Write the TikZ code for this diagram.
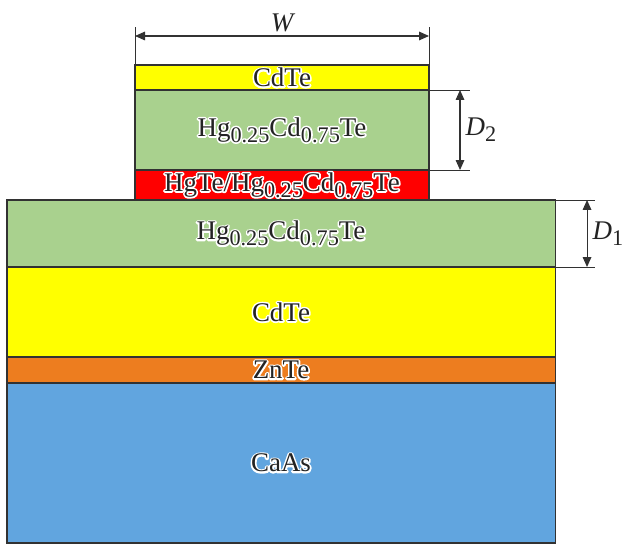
\documentclass[tikz,border=0pt]{standalone}
\usepackage{fontspec}
\setmainfont{Liberation Serif}
\usetikzlibrary{arrows.meta,positioning}
\definecolor{cdyellow}{RGB}{255,255,0}
\definecolor{mctgreen}{RGB}{169,209,142}
\definecolor{qwred}{RGB}{255,0,0}
\definecolor{znorange}{RGB}{237,125,31}
\definecolor{subblue}{RGB}{97,165,223}
\definecolor{edge}{RGB}{50,50,50}
\definecolor{ink}{RGB}{35,35,35}
\newcommand{\sub}[1]{\raisebox{-5pt}{\fontsize{19}{20}\selectfont #1}}
\newcommand{\mct}{Hg\sub{0.25}Cd\sub{0.75}Te}
% white outline drawn under the text
\newcommand{\halo}[1]{\leavevmode\rlap{\special{pdf:literal direct q 1 Tr 2.8 w 1 1 1 RG 1 j}#1\special{pdf:literal direct Q}}#1}

\begin{document}
\begin{tikzpicture}[x=0.03cm,y=-0.03cm,
    layer/.style={draw=edge,line width=0.9pt,outer sep=0pt,inner sep=0pt,
      font=\fontsize{23}{26}\selectfont,text=ink},
    dimline/.style={draw=edge,line width=0.8pt},
    dimarrow/.style={draw=edge,line width=0.9pt,
      {Triangle[length=3mm,width=2.6mm]}-{Triangle[length=3mm,width=2.6mm]}},
    dimlabel/.style={font=\fontsize{23}{26}\selectfont\itshape,text=ink}]
  \useasboundingbox (0,0) rectangle (623,545);

  % mesa: cap, barrier, quantum well
  \node[layer,fill=cdyellow,minimum width=8.82cm,minimum height=0.75cm,anchor=north west] (cap) at (135,65) {\halo{CdTe}};
  \node[layer,fill=mctgreen,minimum width=8.82cm,minimum height=2.4cm,below=0pt of cap] (barrier) {\halo{\mct}};
  \node[layer,fill=qwred,minimum width=8.82cm,minimum height=0.9cm,below=0pt of barrier] (qw) {\halo{HgTe/\mct}};

  % buffer stack and substrate
  \node[layer,fill=mctgreen,minimum width=16.44cm,minimum height=2.01cm,anchor=north west] (buffer) at (7,200) {\halo{\mct}};
  \node[layer,fill=cdyellow,minimum width=16.44cm,minimum height=2.7cm,below=0pt of buffer] (cdte) {\halo{CdTe}};
  \node[layer,fill=znorange,minimum width=16.44cm,minimum height=0.78cm,below=0pt of cdte] (znte) {\halo{ZnTe}};
  \node[layer,fill=subblue,minimum width=16.44cm,minimum height=4.8cm,below=0pt of znte] (substrate) {\halo{CaAs}};

  % width W
  \coordinate[above=1.14cm of cap.north west] (wl);
  \coordinate[above=1.14cm of cap.north east] (wr);
  \coordinate[above=0.87cm of cap.north west] (wal);
  \coordinate[above=0.87cm of cap.north east] (war);
  \draw[dimline] (cap.north west) -- (wl);
  \draw[dimline] (cap.north east) -- (wr);
  \draw[dimarrow] (wal) -- node[dimlabel,above=0pt] {W} (war);

  % thickness D2
  \coordinate[right=1.23cm of barrier.north east] (d2t);
  \coordinate[right=1.23cm of barrier.south east] (d2b);
  \coordinate[right=0.93cm of barrier.north east] (d2at);
  \coordinate[right=0.93cm of barrier.south east] (d2ab);
  \draw[dimline] (barrier.north east) -- (d2t);
  \draw[dimline] (barrier.south east) -- (d2b);
  \draw[dimarrow] (d2at) -- node[dimlabel,right=1pt] {D\sub{\upshape 2}} (d2ab);

  % thickness D1
  \coordinate[right=1.2cm of buffer.north east] (d1t);
  \coordinate[right=1.2cm of buffer.south east] (d1b);
  \coordinate[right=0.96cm of buffer.north east] (d1at);
  \coordinate[right=0.96cm of buffer.south east] (d1ab);
  \draw[dimline] (buffer.north east) -- (d1t);
  \draw[dimline] (buffer.south east) -- (d1b);
  \draw[dimarrow] (d1at) -- node[dimlabel,right=1pt] {D\sub{\upshape 1}} (d1ab);
\end{tikzpicture}
\end{document}
